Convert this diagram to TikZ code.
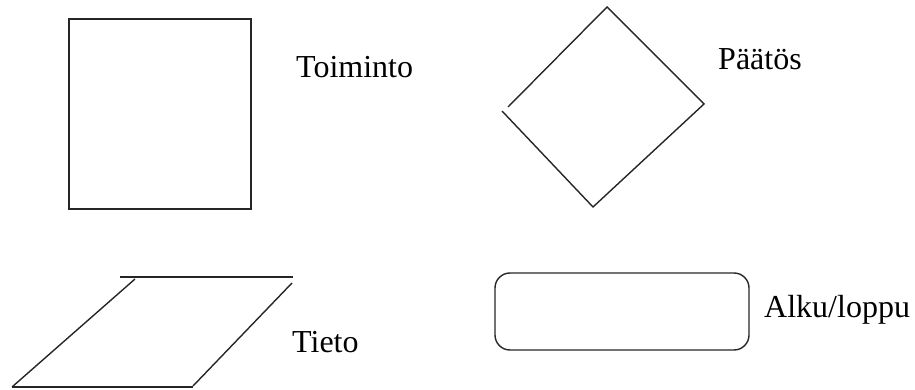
\documentclass[tikz,border=0pt]{standalone}
\usepackage{fontspec}
\setmainfont{Liberation Serif}
\begin{document}
\begin{tikzpicture}[x=1pt,y=-1pt,
  outline/.style={draw=black!85,line width=1.4pt,line join=miter},
  caption/.style={anchor=base west,inner sep=0pt,font=\fontsize{32}{38}\selectfont}]
\useasboundingbox (0,0) rectangle (915,390);

% process box
\draw[outline] (69,19) rectangle (251,209);
\node[caption] (toiminto) at (296,78) {Toiminto};

% decision diamond (left corner left slightly open)
\draw[outline] (508,107) -- (607,7) -- (704,104) -- (593,207) -- (502,111);
\node[caption] (paatos) at (718,70) {Päätös};

% data parallelogram
\draw[outline] (120,277) -- (293,277);
\draw[outline] (292,283) -- (193,386);
\draw[outline] (12,387) -- (193,387);
\draw[outline] (12,387) -- (135,279);
\node[caption] (tieto) at (292,352) {Tieto};

% terminator
\draw[outline,rounded corners=15pt] (495,273) rectangle (749,350);
\node[caption] (alku) at (764,317) {Alku/loppu};
\end{tikzpicture}
\end{document}
